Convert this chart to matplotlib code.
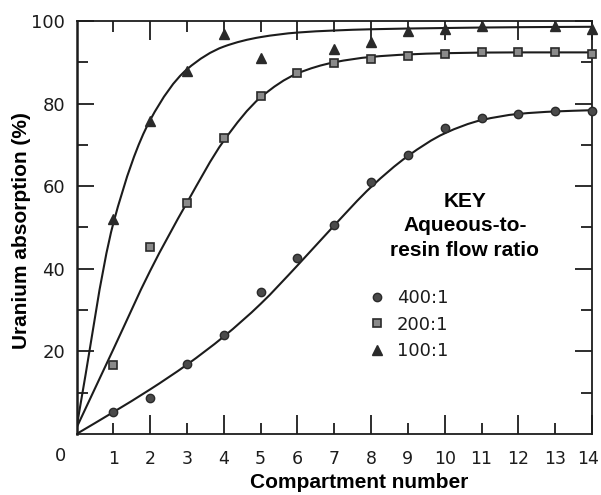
import numpy as np
import matplotlib
matplotlib.use("Agg")
import matplotlib.pyplot as plt
from matplotlib.path import Path
from matplotlib.patches import PathPatch
from matplotlib.transforms import ScaledTranslation

# measured points (compartment number, uranium absorption %)
x_400 = [1, 2, 3, 4, 5, 6, 7, 8, 9, 10, 11, 12, 13, 14]
y_400 = [5.4, 8.8, 16.9, 23.9, 34.4, 42.5, 50.5, 60.9, 67.6, 74.0, 76.5, 77.6, 78.1, 78.3]
x_200 = [1, 2, 3, 4, 5, 6, 7, 8, 9, 10, 11, 12, 13, 14]
y_200 = [16.7, 45.2, 55.9, 71.7, 81.9, 87.5, 89.9, 90.8, 91.5, 92.0, 92.4, 92.4, 92.4, 92.0]
x_100 = [1, 2, 3, 4, 5, 7, 8, 9, 10, 11, 13, 14]
y_100 = [52.1, 75.8, 87.9, 96.8, 91.1, 93.2, 94.8, 97.6, 98.0, 98.8, 98.8, 98.0]

# hand-drawn fitted curves
cx_400 = [0, 1, 2, 3, 4, 5, 6, 7, 8, 9, 10, 11, 12, 13, 14]
cy_400 = [0, 5.3, 10.8, 16.8, 23.6, 31.5, 40.8, 50.5, 59.8, 67.3, 72.8, 76, 77.5, 78.1, 78.4]
cx_200 = [0, 1, 2, 3, 4, 5, 6, 7, 8, 9, 10, 12, 14]
cy_200 = [1.5, 20.5, 39.5, 56, 71, 81.5, 87.3, 90, 91.3, 91.9, 92.2, 92.4, 92.4]
cx_100 = [0, 1, 2, 3, 4, 5, 6, 7, 8, 10, 12, 14]
cy_100 = [1.5, 51, 76, 88.3, 93.8, 96.1, 97.2, 97.7, 98.0, 98.3, 98.5, 98.6]

labels = ["400:1", "200:1", "100:1"]
x_ticks_long = [2, 4, 6, 8, 10, 12, 14]
x_ticks_short = [1, 3, 5, 7, 9, 11, 13]
y_ticks = [20, 40, 60, 80, 100]
y_minor = [10, 30, 50, 70, 90]

ink = "#1c1c1c"


def smooth_path(xs, ys):
    # monotone cubic through the read points, drawn as bezier segments
    xs = np.asarray(xs, float)
    ys = np.asarray(ys, float)
    h = np.diff(xs)
    d = np.diff(ys) / h
    m = np.empty_like(ys)
    m[0], m[-1] = d[0], d[-1]
    for k in range(1, len(xs) - 1):
        if d[k - 1] * d[k] <= 0:
            m[k] = 0
        else:
            w1 = 2 * h[k] + h[k - 1]
            w2 = h[k] + 2 * h[k - 1]
            m[k] = (w1 + w2) / (w1 / d[k - 1] + w2 / d[k])
    verts = [(xs[0], ys[0])]
    codes = [Path.MOVETO]
    for k in range(len(h)):
        verts += [(xs[k] + h[k] / 3, ys[k] + m[k] * h[k] / 3),
                  (xs[k + 1] - h[k] / 3, ys[k + 1] - m[k + 1] * h[k] / 3),
                  (xs[k + 1], ys[k + 1])]
        codes += [Path.CURVE4] * 3
    return Path(verts, codes)


fig = plt.figure(figsize=(6.01, 4.95), dpi=100)
ax = fig.add_axes([76.5 / 601, 61 / 495, 515.5 / 601, 413 / 495])
ax.set_xlim(0, 14)
ax.set_ylim(0, 100)

for cx, cy in [(cx_400, cy_400), (cx_200, cy_200), (cx_100, cy_100)]:
    ax.add_patch(PathPatch(smooth_path(cx, cy), fill=False, lw=1.5,
                           ec=ink, zorder=2, capstyle="round"))

ax.plot(x_400, y_400, ls="none", marker="o", ms=6, mfc="#4a4a4a", mec="#2a2a2a",
        label=labels[0], zorder=3, clip_on=False)
ax.plot(x_200, y_200, ls="none", marker="s", ms=5.5, mfc="#8a8a8a", mec="#2a2a2a",
        mew=1.2, label=labels[1], zorder=3, clip_on=False)
ax.plot(x_100, y_100, ls="none", marker="^", ms=7, mfc="#2a2a2a", mec="#2a2a2a",
        label=labels[2], zorder=3, clip_on=False)

# ticks
ax.set_xticks(x_ticks_long)
ax.set_xticklabels([str(v) for v in x_ticks_long])
ax.set_xticks(x_ticks_short, minor=True)
ax.set_xticklabels([str(v) for v in x_ticks_short], minor=True)
ax.set_yticks(y_ticks)
ax.set_yticklabels([str(v) for v in y_ticks])
ax.set_yticks(y_minor, minor=True)
ax.tick_params(axis="x", which="both", direction="in", top=True, bottom=True,
               pad=11.5, labelsize=12.5, colors=ink, width=1.3)
ax.tick_params(axis="x", which="major", length=13.5)
ax.tick_params(axis="x", which="minor", length=8)
ax.tick_params(axis="y", which="both", direction="in", left=True, right=True,
               pad=8.3, labelsize=13, colors=ink, width=1.3)
ax.tick_params(axis="y", which="major", length=12.5)
ax.tick_params(axis="y", which="minor", length=8)

# the last x label sits right at the figure edge: nudge it left a little
last = ax.xaxis.get_major_ticks()[-1].label1
last.set_transform(last.get_transform() + ScaledTranslation(-4 / 100, 0, fig.dpi_scale_trans))

for side, sp in ax.spines.items():
    sp.set_color(ink)
    sp.set_linewidth(1.8 if side == "left" else 1.3)

fig.text(60 / 601, 1 - 456 / 495, "0", ha="center", va="center", fontsize=13, color=ink)

fig.text(22 / 601, 1 - 231 / 495, "Uranium absorption (%)", rotation=90,
         ha="center", va="center", fontsize=15, fontweight="bold",
         family="Liberation Sans", color="black")
fig.text(359 / 601, 1 - 482 / 495, "Compartment number", ha="center", va="center",
         fontsize=15, fontweight="bold", family="Liberation Sans", color="black")

# key
ax.text((465 - 76.5) / 515.5, (434 - 226) / 413, "KEY\nAqueous-to-\nresin flow ratio",
        transform=ax.transAxes, ha="center", va="center", multialignment="center",
        fontsize=15, fontweight="bold", family="Liberation Sans", linespacing=1.35)
ax.legend(loc="upper left", bbox_to_anchor=((368 - 76.5) / 515.5, (434 - 289) / 413),
          frameon=False, borderpad=0, borderaxespad=0, handlelength=1.0,
          handletextpad=0.6, labelspacing=0.48, numpoints=1, fontsize=13,
          labelcolor=ink)

fig.savefig("out.png", dpi=100)
